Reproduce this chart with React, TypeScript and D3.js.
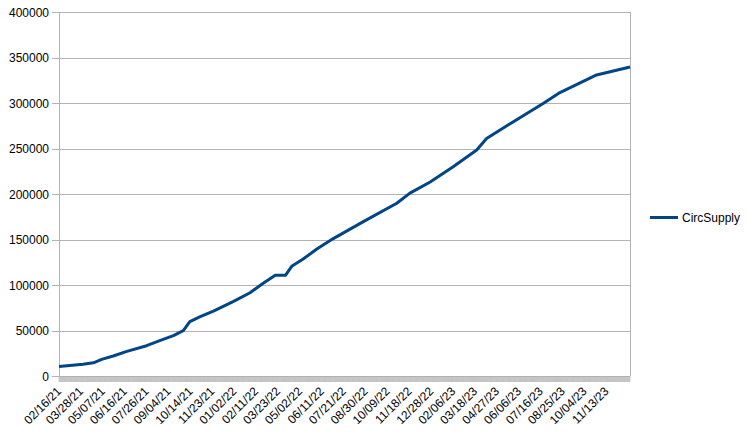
import React from "react";
import * as d3 from "d3";

const seriesName = "CircSupply";

const dates = [
  "2021-02-16", "2021-04-01", "2021-04-20", "2021-05-05", "2021-05-26", "2021-06-20",
  "2021-07-26", "2021-08-19", "2021-09-13", "2021-10-01", "2021-10-13", "2021-11-01",
  "2021-11-25", "2021-12-31", "2022-01-31", "2022-02-24", "2022-03-18", "2022-04-06",
  "2022-04-17", "2022-05-08", "2022-06-02", "2022-07-02", "2022-08-26", "2022-10-26",
  "2022-11-19", "2022-12-26", "2023-02-06", "2023-03-21", "2023-04-08", "2023-05-27",
  "2023-07-21", "2023-08-20", "2023-10-26", "2023-12-26",
];

const supply = [
  10500, 12800, 14500, 18300, 22000, 27000,
  33300, 38800, 44300, 49800, 59700, 65200,
  71400, 81700, 91500, 101900, 110800, 110800,
  120500, 128500, 139500, 151000, 169600, 189800,
  201000, 213200, 230000, 248400, 261000, 279500,
  299700, 311500, 330800, 339500,
];

const xTickLabels = [
  "02/16/21", "03/28/21", "05/07/21", "06/16/21", "07/26/21", "09/04/21", "10/14/21",
  "11/23/21", "01/02/22", "02/11/22", "03/23/22", "05/02/22", "06/11/22", "07/21/22",
  "08/30/22", "10/09/22", "11/18/22", "12/28/22", "02/06/23", "03/18/23", "04/27/23",
  "06/06/23", "07/16/23", "08/25/23", "10/04/23", "11/13/23",
];

const yTicks = [0, 50000, 100000, 150000, 200000, 250000, 300000, 350000, 400000];

const axisStart = "2021-02-16";
const axisEnd = "2023-12-26";

const parse = d3.utcParse("%Y-%m-%d");
const parseLabel = d3.utcParse("%m/%d/%y");

export default function App() {
  const W = 749;
  const H = 438;
  const left = 59;
  const right = 630;
  const top = 12;
  const bottom = 376;

  const x = d3
    .scaleUtc()
    .domain([parse(axisStart) as Date, parse(axisEnd) as Date])
    .range([left, right]);
  const y = d3.scaleLinear().domain([0, 400000]).range([bottom, top]);

  const data = dates.map((d, i) => ({ date: parse(d) as Date, v: supply[i] }));
  const line = d3
    .line<{ date: Date; v: number }>()
    .x((d) => x(d.date))
    .y((d) => y(d.v));

  const days = d3.utcDay.range(parse(axisStart) as Date, d3.utcDay.offset(parse(axisEnd) as Date, 1));

  const font = "'Liberation Sans', Arial, sans-serif";
  const grid = "#b3b3b3";

  return (
    <div style={{ position: "fixed", left: 0, top: 0 }}>
      <svg width={W} height={H} style={{ display: "block", background: "#fff" }}>
        <rect x={0} y={0} width={W} height={H} fill="#fff" />
        {yTicks.map((t) => (
          <g key={t}>
            <line x1={left} x2={right} y1={Math.round(y(t)) + 0.5} y2={Math.round(y(t)) + 0.5} stroke={grid} strokeWidth={1} />
            <line x1={52} x2={left} y1={Math.round(y(t)) + 0.5} y2={Math.round(y(t)) + 0.5} stroke={grid} strokeWidth={1} />
            <text x={49} y={y(t) + 4.5} textAnchor="end" fontFamily={font} fontSize={12} fill="#000">
              {t}
            </text>
          </g>
        ))}
        <line x1={left + 0.5} x2={left + 0.5} y1={top} y2={bottom} stroke={grid} strokeWidth={1} />
        <line x1={right + 0.5} x2={right + 0.5} y1={top} y2={bottom} stroke={grid} strokeWidth={1} />
        <g>
          {days.map((d, i) => (
            <line key={i} x1={x(d)} x2={x(d)} y1={bottom} y2={bottom + 6} stroke="#b3b3b3" strokeWidth={0.6} />
          ))}
        </g>
        {xTickLabels.map((l) => {
          const px = x(parseLabel(l) as Date);
          return (
            <text
              key={l}
              transform={`translate(${px + 3},${bottom + 16}) rotate(-45)`}
              textAnchor="end"
              fontFamily={font}
              fontSize={12}
              fill="#000"
            >
              {l}
            </text>
          );
        })}
        <path d={line(data) || ""} fill="none" stroke="#004586" strokeWidth={3} strokeLinejoin="round" />
        <line x1={650} x2={678} y1={217.5} y2={217.5} stroke="#004586" strokeWidth={3} />
        <text x={682} y={222} fontFamily={font} fontSize={12} fill="#000">
          {seriesName}
        </text>
      </svg>
    </div>
  );
}
